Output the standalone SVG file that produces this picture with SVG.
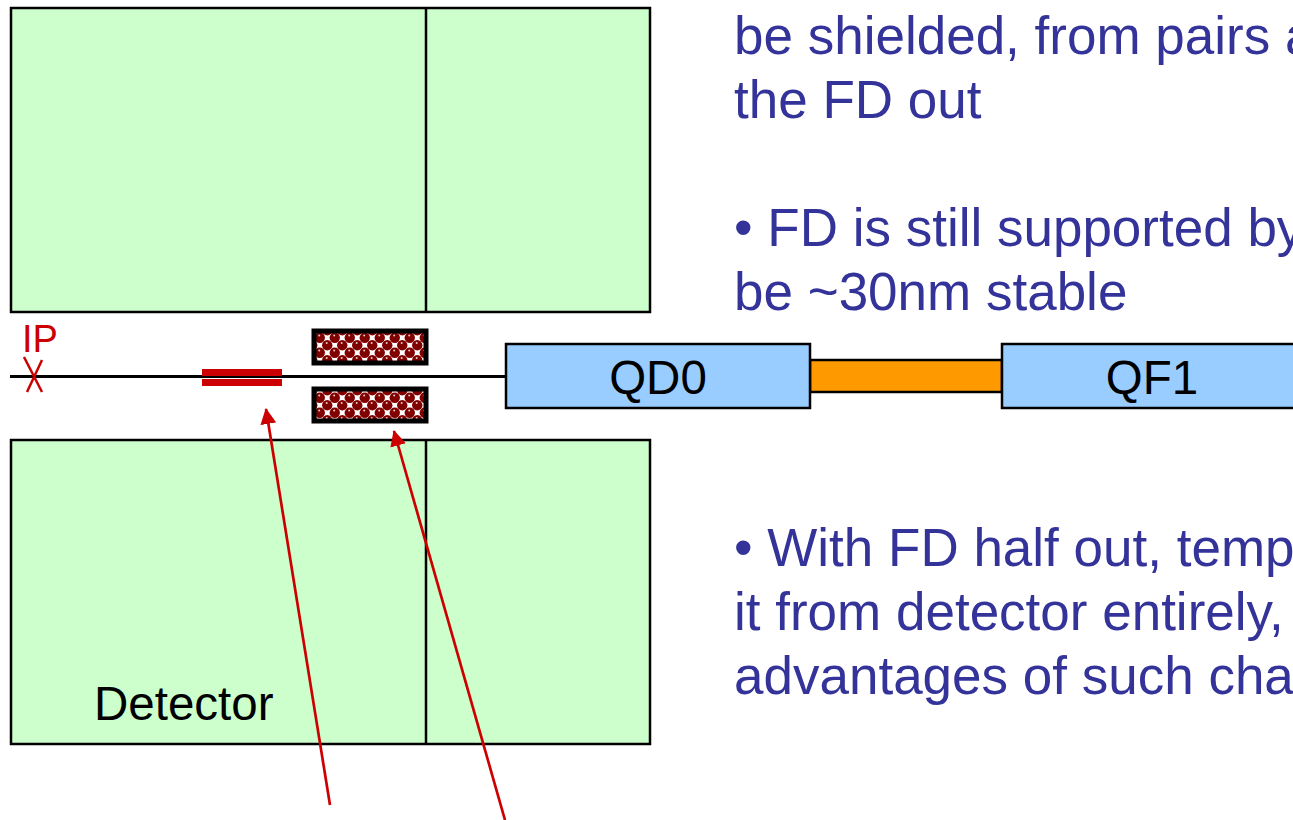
<svg xmlns="http://www.w3.org/2000/svg" width="1293" height="820" viewBox="0 0 1293 820">
<style>
.det{fill:#ccffcc;stroke:#000;stroke-width:2.5}
.div{stroke:#000;stroke-width:2.5;fill:none}
.mag{fill:#99ccff;stroke:#000;stroke-width:2.5}
.lbl{font-family:"Liberation Sans",Arial,sans-serif;font-size:47.500px;fill:#000}
.bul{font-family:"Liberation Sans",Arial,sans-serif;font-size:53px;fill:#333399}
.coil{fill:url(#balls);stroke:#000;stroke-width:5}
.lead{stroke:#cc0000;stroke-width:2.700;fill:none;marker-end:url(#ah)}
.b{fill:#800000}
.h{fill:#e8c8c8}
</style>
<defs>
<marker id="ah" markerUnits="userSpaceOnUse" markerWidth="17" markerHeight="16" refX="15" refY="8" orient="auto">
<path d="M0 0L16 8L0 16Z" fill="#cc0000"/>
</marker>
<pattern id="balls" patternUnits="userSpaceOnUse" x="316" y="334" width="15" height="15">
<rect width="15" height="15" fill="#fff"/>
<circle class="b" cx="3.750" cy="3.750" r="5.200"/>
<circle class="b" cx="18.750" cy="3.750" r="5.200"/>
<circle class="b" cx="3.750" cy="18.750" r="5.200"/>
<circle class="b" cx="11.250" cy="11.250" r="5.200"/>
<circle class="b" cx="-3.750" cy="11.250" r="5.200"/>
<circle class="b" cx="11.250" cy="-3.750" r="5.200"/>
<circle class="h" cx="3.200" cy="1.400" r="1"/>
<circle class="h" cx="10.700" cy="8.900" r="1"/>
</pattern>
</defs>
<rect width="1293" height="820" fill="#fff"/>
<g id="detector-top"><rect class="det" x="11" y="8" width="639" height="304"/><path class="div" d="M426 8V312"/></g>
<g id="detector-bottom"><rect class="det" x="11" y="440" width="639" height="304"/><path class="div" d="M426 440V744"/>
<text class="lbl" x="94" y="720">Detector</text></g>
<g id="beamline"><path d="M10 376.500H506" stroke="#000" stroke-width="3" fill="none"/></g>
<g id="ip"><text x="22" y="352" font-family="Liberation Sans, Arial, sans-serif" font-size="38" fill="#cc0000">IP</text>
<path d="M24 357L42 392M42 360L27 392" stroke="#cc0000" stroke-width="2.500" fill="none"/></g>
<g id="red-bars"><rect x="202" y="369" width="80" height="7" fill="#cc0000"/><rect x="202" y="379" width="80" height="7" fill="#cc0000"/></g>
<g id="coil-top"><rect class="coil" x="314" y="331" width="112" height="32"/></g>
<g id="coil-bottom"><rect class="coil" x="314" y="389" width="112" height="32"/></g>
<g id="support"><rect x="810" y="360" width="192" height="32" fill="#ff9900" stroke="#000" stroke-width="2.500"/></g>
<g id="qd0"><rect class="mag" x="506" y="344" width="304" height="64"/><text class="lbl" x="658" y="394" text-anchor="middle">QD0</text></g>
<g id="qf1"><rect class="mag" x="1002" y="344" width="304" height="64"/><text class="lbl" x="1152" y="394" text-anchor="middle">QF1</text></g>
<g id="connectors"><path class="lead" d="M330 805L266 409"/><path class="lead" d="M505 820L394 431"/></g>
<g id="text">
<text class="bul" x="734" y="54">be shielded, from pairs a</text>
<text class="bul" x="734" y="118">the FD out</text>
<text class="bul" x="734" y="246">• FD is still supported by</text>
<text class="bul" x="734" y="310">be ~30nm stable</text>
<text class="bul" x="734" y="566">• With FD half out, temp</text>
<text class="bul" x="734" y="630">it from detector entirely,</text>
<text class="bul" x="734" y="694">advantages of such cha</text>
</g>
</svg>
